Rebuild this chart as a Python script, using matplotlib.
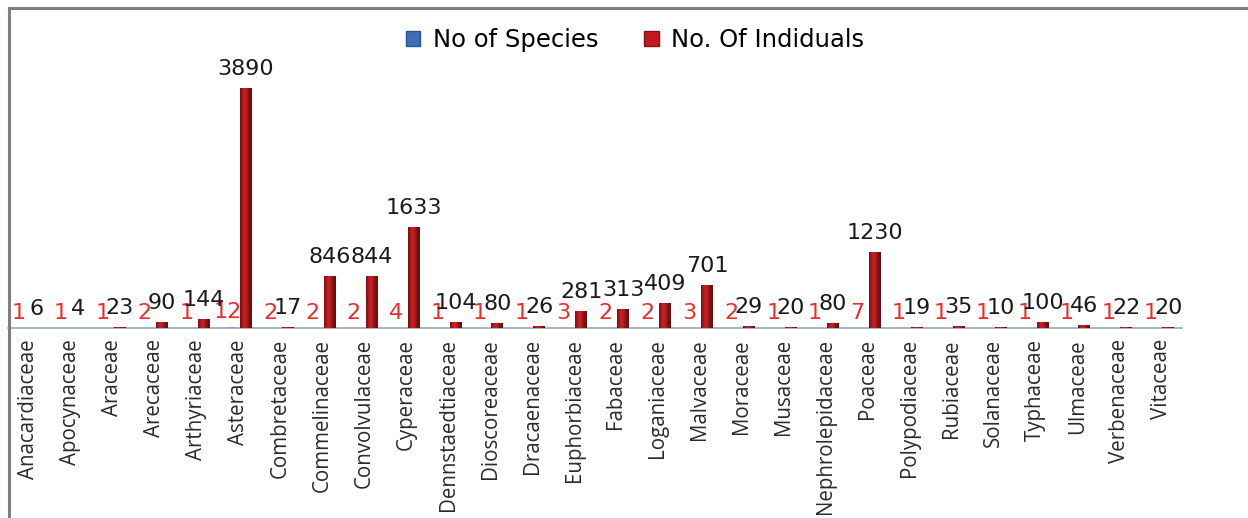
import numpy as np
import matplotlib
matplotlib.use("Agg")
import matplotlib.pyplot as plt
from matplotlib.lines import Line2D
from matplotlib.patches import Patch

families = ["Anacardiaceae", "Apocynaceae", "Araceae", "Arecaceae", "Arthyriaceae",
            "Asteraceae", "Combretaceae", "Commelinaceae", "Convolvulaceae", "Cyperaceae",
            "Dennstaedtiaceae", "Dioscoreaceae", "Dracaenaceae", "Euphorbiaceae", "Fabaceae",
            "Loganiaceae", "Malvaceae", "Moraceae", "Musaceae", "Nephrolepidaceae",
            "Poaceae", "Polypodiaceae", "Rubiaceae", "Solanaceae", "Typhaceae",
            "Ulmaceae", "Verbenaceae", "Vitaceae"]
species = [1, 1, 1, 2, 1, 12, 2, 2, 2, 4, 1, 1, 1, 3, 2, 2, 3, 2, 1, 1, 7, 1, 1, 1, 1, 1, 1, 1]
individuals = [6, 4, 23, 90, 144, 3890, 17, 846, 844, 1633, 104, 80, 26, 281, 313,
               409, 701, 29, 20, 80, 1230, 19, 35, 10, 100, 46, 22, 20]

W, H = 1248, 518
fig = plt.figure(figsize=(W / 100, H / 100), dpi=100)
fig.patch.set_facecolor("white")

# plot area in pixels (left, bottom, right, top measured from the top-left corner)
x0, x1 = 8, 1182
y_base, y_top = 328, 56
ax = fig.add_axes([x0 / W, 1 - y_base / H, (x1 - x0) / W, (y_base - y_top) / H])

x = np.arange(len(families))
bw = 0.28
off = 0.17
blue_bars = ax.bar(x - off, species, width=bw, color="#6f8fbf", zorder=2)
red_bars = ax.bar(x + off, individuals, width=bw, color="#a8161a", zorder=2)

# cylinder-like shading across each red column
grad = np.linspace(0, 1, 64)
shade = 0.5 + 0.5 * np.exp(-((grad - 0.4) / 0.3) ** 2)
base = np.array([0.80, 0.12, 0.13])
img = (shade[None, :, None] * base[None, None, :])
for b in red_bars:
    xb, wb, hb = b.get_x(), b.get_width(), b.get_height()
    im = ax.imshow(img, extent=[xb, xb + wb, 0, hb], aspect="auto", zorder=3,
                   interpolation="bilinear")
    im.set_clip_path(b)

ax.set_xlim(-0.5, len(families) - 0.5)
ax.set_ylim(0, 4400)
ax.set_yticks([])
for s in ["left", "right", "top"]:
    ax.spines[s].set_visible(False)
ax.spines["bottom"].set_color("#9aa6b8")
ax.spines["bottom"].set_linewidth(1.2)
ax.set_xticks(x)
ax.set_xticklabels(families, rotation=90, fontsize=14.8, family="Open Sans",
                   color="#2a2a2a")
ax.tick_params(axis="x", length=0, pad=8)

for xi, v in zip(x, individuals):
    ax.annotate(str(v), (xi + off, v), xytext=(0, 19), textcoords="offset pixels",
                ha="center", va="center", fontsize=16, color="#1a1a1a",
                family="DejaVu Sans", zorder=5)
for xi, v in zip(x, species):
    ax.annotate(str(v), (xi - off - 0.08, v), xytext=(0, 15), textcoords="offset pixels",
                ha="center", va="center", fontsize=16, color="#f02a2a",
                family="DejaVu Sans", zorder=4)

handles = [Patch(facecolor="#3d6fb5", edgecolor="#2a5490"),
           Patch(facecolor="#c01c20", edgecolor="#8a1014")]
fig.legend(handles, ["No of Species", "No. Of Indiduals"], loc="center",
           bbox_to_anchor=(635 / W, 1 - 40 / H), ncol=2, frameon=False,
           handlelength=0.6, handleheight=0.6, handletextpad=0.5,
           columnspacing=1.9, prop={"family": "DejaVu Sans", "size": 17.5})

# chart border on the left and top
fig.add_artist(Line2D([9 / W, 9 / W], [0, 1 - 8 / H], color="#7f7f7f", lw=2.2,
                      transform=fig.transFigure))
fig.add_artist(Line2D([9 / W, 1], [1 - 8 / H, 1 - 8 / H], color="#7f7f7f", lw=2.2,
                      transform=fig.transFigure))

fig.savefig("out.png", dpi=100)
